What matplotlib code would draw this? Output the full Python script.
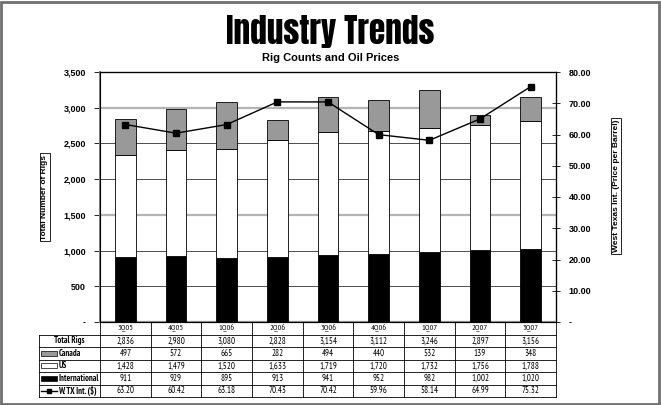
import numpy as np
import matplotlib.pyplot as plt
from matplotlib.patches import Rectangle

quarters = ['3Q05', '4Q05', '1Q06', '2Q06', '3Q06', '4Q06', '1Q07', '2Q07', '3Q07']
canada = [497, 572, 665, 282, 494, 440, 532, 139, 348]
us = [1428, 1479, 1520, 1633, 1719, 1720, 1732, 1756, 1788]
intl = [911, 929, 895, 913, 941, 952, 982, 1002, 1020]
total_rigs = [2836, 2980, 3080, 2828, 3154, 3112, 3246, 2897, 3156]
wti = [63.20, 60.42, 63.18, 70.43, 70.42, 59.96, 58.14, 64.99, 75.32]

W, H = 661, 405
fig = plt.figure(figsize=(W / 100, H / 100), dpi=100)
plt.rcParams['font.family'] = ['Liberation Sans', 'DejaVu Sans']
narrow = ['PT Sans Narrow', 'DejaVu Sans']

def px(x0, y0, x1, y1):
    # pixel box (top-left origin) -> figure fraction rect
    return [x0 / W, 1 - y1 / H, (x1 - x0) / W, (y1 - y0) / H]

# outer frame
fig.patches.append(Rectangle((0.002, 0.003), 0.995, 0.993, transform=fig.transFigure,
                             fill=False, edgecolor='#707070', lw=2))

fig.text(0.5, 1 - 32 / H, 'Industry Trends', ha='center', va='center',
         fontsize=24, family=['Anton', 'DejaVu Sans'])
fig.text(0.5, 1 - 58 / H, 'Rig Counts and Oil Prices', ha='center', va='center',
         fontsize=8, fontweight='bold')

ax = fig.add_axes(px(100, 72, 556, 322))
x = np.arange(len(quarters))
bw = 0.41
ax.bar(x, intl, bw, color='black', edgecolor='black', lw=0.6, zorder=3)
ax.bar(x, us, bw, bottom=intl, color='white', edgecolor='black', lw=0.6, zorder=3)
bottom2 = np.array(intl) + np.array(us)
ax.bar(x, canada, bw, bottom=bottom2, color='#999999', edgecolor='black', lw=0.6, zorder=3)

ax.set_xlim(-0.5, len(quarters) - 0.5)
ax.set_ylim(0, 3500)
yt = np.arange(0, 3501, 500)
ax.set_yticks(yt)
ax.set_yticklabels(['-'] + [f'{v:,}' for v in yt[1:]], fontsize=6.5, fontweight='bold')
ax.set_xticks([])
for v in yt[1:-1]:
    if v in (1500, 3000):
        ax.axhline(v, color='#b4b4b4', lw=1.6, zorder=1)
    else:
        ax.axhline(v, color='#303030', lw=0.6, zorder=1)
ax.tick_params(axis='y', direction='out', length=4, width=0.6, pad=6)
ax.spines['left'].set_color('#808080')
ax.spines['left'].set_linewidth(1.4)
ax.spines['bottom'].set_color('#909090')
ax.spines['bottom'].set_linewidth(1.6)
ax.spines['top'].set_linewidth(0.9)
ax.spines['right'].set_linewidth(0.9)

ax2 = ax.twinx()
ax2.plot(x, wti, color='black', lw=1.0, marker='s', ms=4, zorder=5)
ax2.set_ylim(0, 80)
rt = np.arange(0, 81, 10)
ax2.set_yticks(rt)
ax2.set_yticklabels(['-'] + [f'{v:.2f}' for v in rt[1:]], fontsize=6.5, fontweight='bold')
ax2.tick_params(axis='y', direction='inout', length=6, width=0.6, pad=6)
ax2.set_xlim(-0.5, len(quarters) - 0.5)

box = dict(boxstyle='square,pad=0.2', fc='white', ec='black', lw=0.6)
fig.text(45 / W, 1 - 197 / H, 'Total Number of Rigs', rotation=90, ha='center', va='center',
         fontsize=6, fontweight='bold', bbox=box)
fig.text(616 / W, 1 - 186 / H, 'West Texas Int. (Price per Barrel)', rotation=90,
         ha='center', va='center', fontsize=6, fontweight='bold', bbox=box)

# data table below the chart
tax = fig.add_axes(px(39, 322, 556, 397))
left = -0.5 - 61 / (456 / len(quarters))
n = len(quarters)
tax.set_xlim(left, n - 0.5)
tax.set_ylim(6, 0)
tax.axis('off')
for r in range(1, 7):
    tax.plot([left, n - 0.5], [r, r], color='black', lw=0.6, clip_on=False)
for c in np.arange(-0.5, n, 1.0):
    tax.plot([c, c], [0, 6], color='black', lw=0.6, clip_on=False)
tax.plot([left, left], [1, 6], color='black', lw=0.6, clip_on=False)

rows = [
    [f'{v:,}' for v in total_rigs],
    [f'{v:,}' for v in canada],
    [f'{v:,}' for v in us],
    [f'{v:,}' for v in intl],
    [f'{v:.2f}' for v in wti],
]
for i, q in enumerate(quarters):
    tax.text(i, 0.5, q, ha='center', va='center', fontsize=6, family=narrow)
    for r, vals in enumerate(rows):
        tax.text(i, r + 1.5, vals[i], ha='center', va='center', fontsize=6.5, family=narrow)

tax.text(left + 0.6, 1.5, 'Total Rigs', ha='center', va='center', fontsize=6.2,
         fontweight='bold', family=narrow)
kx0, kx1 = left + 0.03, left + 0.36
key_fill = ['#999999', 'white', 'black']
names = ['Canada', 'US', 'International']
for k in range(3):
    tax.add_patch(Rectangle((kx0, 2.5 + k - 0.2), kx1 - kx0, 0.4, fc=key_fill[k],
                            ec='black', lw=0.5))
    tax.text(kx1 + 0.02, 2.5 + k, names[k], ha='left', va='center', fontsize=6.2,
             fontweight='bold', family=narrow)
tax.plot([kx0, kx1], [5.5, 5.5], color='black', lw=1.0, clip_on=False)
tax.plot([(kx0 + kx1) / 2], [5.5], marker='s', color='black', ms=3.5, clip_on=False)
tax.text(kx1 + 0.02, 5.5, 'W. TX Int. ($)', ha='left', va='center', fontsize=6.2,
         fontweight='bold', family=narrow)

fig.savefig('out.png', dpi=100)
